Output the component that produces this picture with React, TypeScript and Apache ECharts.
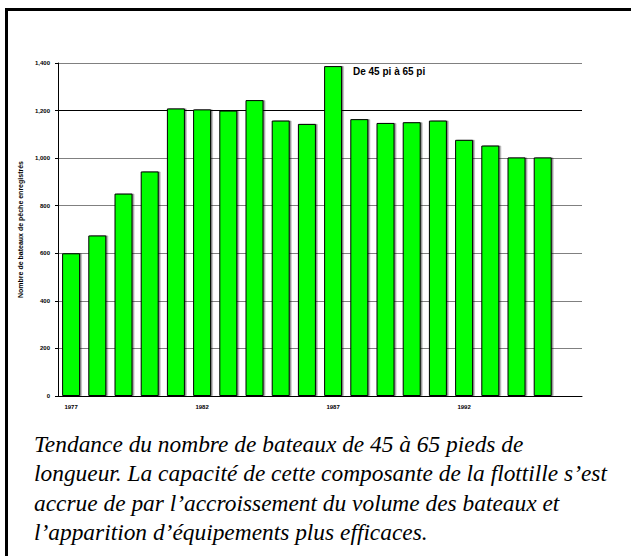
import React, { useEffect, useRef } from "react";
import * as echarts from "echarts";

const years = [
  "1977", "1978", "1979", "1980", "1981", "1982", "1983", "1984", "1985", "1986",
  "1987", "1988", "1989", "1990", "1991", "1992", "1993", "1994", "1995", "1996",
];
const boats: (number | null)[] = [
  600, 675, 851, 944, 1209, 1205, 1200, 1244, 1158, 1144,
  1387, 1164, 1148, 1151, 1158, 1077, 1053, 1003, 1003, null,
];
const yTicks = { min: 0, max: 1400, interval: 200 };
const seriesName = "De 45 pi à 65 pi";
const yAxisName = "Nombre de bateaux de pêche enregistrés";
const captionLines = [
  "Tendance du nombre de bateaux de 45 à 65 pieds de",
  "longueur. La capacité de cette composante de la flottille s’est",
  "accrue de par l’accroissement du volume des bateaux et",
  "l’apparition d’équipements plus efficaces.",
];

export default function App() {
  const ref = useRef<HTMLDivElement>(null);
  useEffect(() => {
    if (!ref.current) return;
    const chart = echarts.init(ref.current, null, { renderer: "svg" });
    const grey = "#808080";
    chart.setOption({
      animation: false,
      backgroundColor: "transparent",
      textStyle: { fontFamily: "'Liberation Sans', Arial, sans-serif" },
      grid: { left: 58, right: 49, top: 63, bottom: 160, containLabel: false },
      xAxis: {
        type: "category",
        data: years,
        axisLine: { lineStyle: { color: "#000", width: 1 } },
        axisTick: { interval: 0, length: 3, lineStyle: { color: "#000" } },
        axisLabel: {
          interval: 4,
          fontSize: 6,
          fontWeight: "bold",
          color: "#000",
          margin: 8,
        },
        splitLine: { show: false },
      },
      yAxis: {
        type: "value",
        min: yTicks.min,
        max: yTicks.max,
        interval: yTicks.interval,
        name: yAxisName,
        nameLocation: "middle",
        nameRotate: 90,
        nameGap: 32,
        nameTextStyle: { fontSize: 7, fontWeight: "bold", color: "#000" },
        axisLine: { show: true, lineStyle: { color: "#000", width: 1 } },
        axisTick: { show: true, length: 3, lineStyle: { color: "#000" } },
        axisLabel: {
          fontSize: 6,
          fontWeight: "bold",
          color: "#000",
          margin: 8,
          formatter: (v: number) => v.toLocaleString("en-US"),
        },
        splitLine: {
          show: true,
          lineStyle: {
            color: [grey, grey, grey, grey, grey, grey, "#000000", grey],
            width: 1,
          },
        },
      },
      series: [
        {
          name: seriesName,
          type: "bar",
          data: boats,
          barWidth: 18,
          itemStyle: {
            color: "#00ff00",
            borderColor: "#000",
            borderWidth: 1,
            shadowColor: "rgba(0,0,0,0.45)",
            shadowOffsetX: 1.5,
            shadowOffsetY: 0,
            shadowBlur: 0,
          },
        },
      ],
      graphic: [
        {
          type: "rect",
          shape: { x: 6.5, y: 9.5, width: 700, height: 700 },
          style: { fill: "none", stroke: "#000", lineWidth: 3 },
          silent: true,
        },
        {
          type: "text",
          left: 353,
          top: 66,
          style: {
            text: seriesName,
            fontSize: 10,
            fontWeight: "bold",
            fill: "#000",
            fontFamily: "'Liberation Sans', Arial, sans-serif",
          },
        },
      ],
    });
    return () => chart.dispose();
  }, []);
  return (
    <div
      style={{
        position: "absolute",
        left: 0,
        top: 0,
        width: 631,
        height: 556,
        background: "#fff",
        overflow: "hidden",
      }}
    >
      <div
        ref={ref}
        style={{ position: "absolute", left: 0, top: 0, width: 631, height: 556 }}
      />
      <div
        style={{
          position: "absolute",
          left: 34,
          top: 429.5,
          width: 597,
          fontFamily: "'Liberation Serif', 'Times New Roman', serif",
          fontStyle: "italic",
          fontSize: 23.4,
          lineHeight: "29.6px",
          color: "#000",
          whiteSpace: "nowrap",
        }}
      >
        {captionLines.map((l, i) => (
          <div key={i}>{l}</div>
        ))}
      </div>
    </div>
  );
}
